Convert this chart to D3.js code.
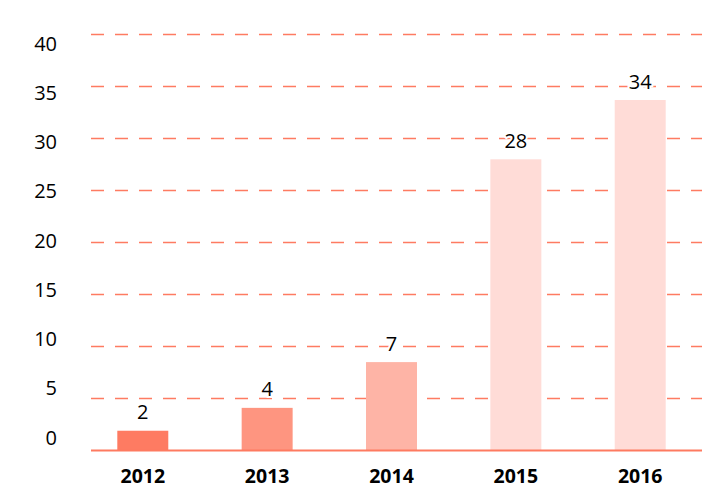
<!DOCTYPE html>
<html>
<head>
<meta charset="utf-8">
<script src="https://cdn.jsdelivr.net/npm/d3@7"></script>
<style>
    body { margin: 0; background: #fff; }
    svg { font-family: "Open Sans", "Noto Sans", sans-serif; }
</style>
</head>
<body>
<svg id="chart" width="722" height="500"></svg>
<script>
// values
let years = ['2012', '2013', '2014', '2015', '2016'];
let barValues = [1.9, 4.1, 8.5, 28, 33.7];   // bar heights as drawn
let valueLabels = ['2', '4', '7', '28', '34'];
let barColors = ['#fe7b62', '#fe9580', '#feb4a6', '#ffdcd7', '#ffdcd7'];
let yTicks = [0, 5, 10, 15, 20, 25, 30, 35, 40];

let svg = d3.select('#chart');

let x = d3.scaleBand()
    .domain(years)
    .range([80, 703])
    .paddingInner(0.59)
    .paddingOuter(0.3);

let y = d3.scaleLinear().domain([0, 40]).range([450.5, 34.5]);
// the tick labels sit on a slightly tighter scale than the grid
let yLabel = d3.scaleLinear().domain([0, 40]).range([437, 43]);

// dashed grid
svg.append('g')
    .selectAll('line')
    .data(yTicks.filter(d => d > 0))
    .enter().append('line')
    .attr('x1', 91)
    .attr('x2', 702)
    .attr('y1', d => y(d))
    .attr('y2', d => y(d))
    .attr('stroke', '#fe7b62')
    .attr('stroke-width', 1.5)
    .attr('stroke-dasharray', '13,11');

// y tick labels
svg.append('g')
    .selectAll('text')
    .data(yTicks)
    .enter().append('text')
    .attr('x', 57)
    .attr('y', d => yLabel(d))
    .attr('text-anchor', 'end')
    .attr('dominant-baseline', 'central')
    .style('font-size', '20px')
    .attr('fill', '#000')
    .text(d => d);

// bars
svg.append('g')
    .selectAll('rect')
    .data(years)
    .enter().append('rect')
    .attr('x', d => x(d))
    .attr('width', x.bandwidth())
    .attr('y', (d, i) => y(barValues[i]))
    .attr('height', (d, i) => y(0) - y(barValues[i]))
    .attr('fill', (d, i) => barColors[i]);

// baseline
svg.append('line')
    .attr('x1', 91)
    .attr('x2', 702)
    .attr('y1', y(0))
    .attr('y2', y(0))
    .attr('stroke', '#fe7a60')
    .attr('stroke-width', 2);

// value labels, white halo over the grid
svg.append('g')
    .selectAll('text')
    .data(years)
    .enter().append('text')
    .attr('x', d => x(d) + x.bandwidth() / 2)
    .attr('y', (d, i) => y(barValues[i]) - 19)
    .attr('text-anchor', 'middle')
    .attr('dominant-baseline', 'central')
    .style('font-size', '20px')
    .attr('fill', '#000')
    .attr('stroke', '#fff')
    .attr('stroke-width', 4)
    .attr('paint-order', 'stroke')
    .text((d, i) => valueLabels[i]);

// year labels
svg.append('g')
    .selectAll('text')
    .data(years)
    .enter().append('text')
    .attr('x', d => x(d) + x.bandwidth() / 2)
    .attr('y', 475)
    .attr('text-anchor', 'middle')
    .attr('dominant-baseline', 'central')
    .style('font-size', '19.5px')
    .style('font-weight', 'bold')
    .attr('fill', '#000')
    .text(d => d);
</script>
</body>
</html>
